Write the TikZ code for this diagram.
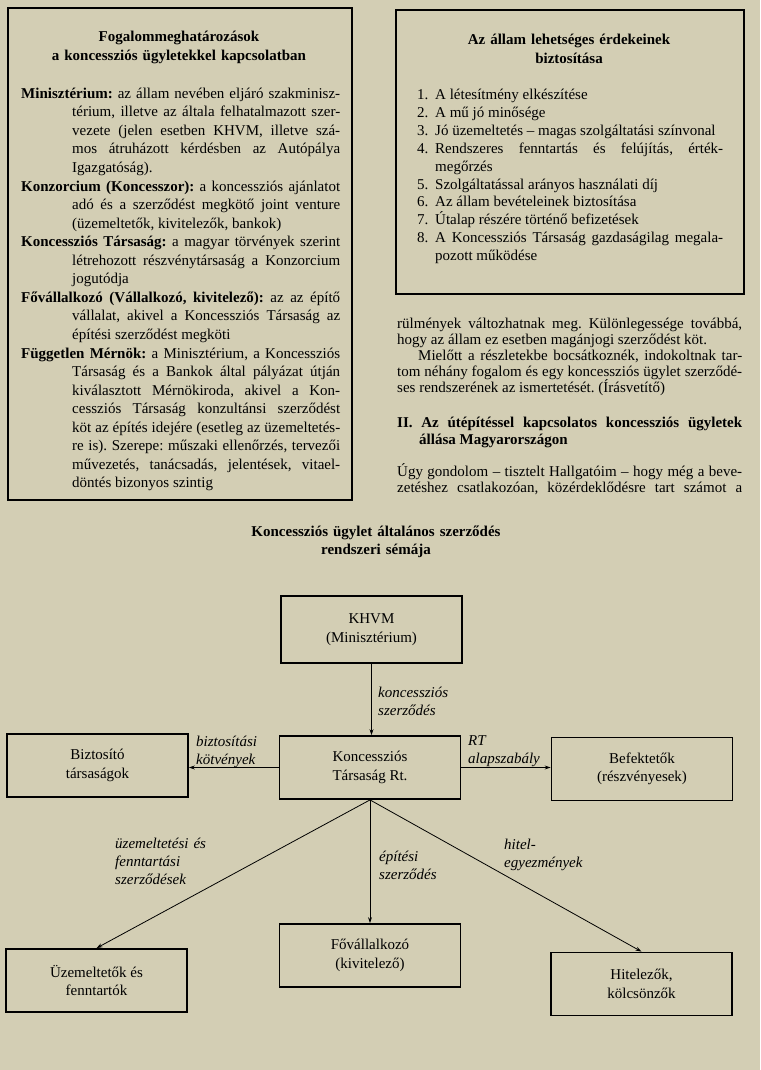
\documentclass[tikz,border=0pt]{standalone}
\usepackage{fontspec}
\setmainfont{Liberation Serif}
\usetikzlibrary{arrows.meta}

\definecolor{paper}{RGB}{211,206,180}

\tolerance=10000
\hbadness=10000
\hfuzz=4pt
\frenchspacing

% hanging entries of the two boxes
\newcommand{\fogalom}[2]{\hangindent=51pt\hangafter=1\noindent\textbf{#1} #2\par}
\newcommand{\tetel}[2]{\hangindent=18pt\hangafter=1\noindent\makebox[18pt][l]{#1}#2\par}

\begin{document}
\begin{tikzpicture}[
  x=1pt, y=-1pt,
  every node/.style={inner sep=0pt},
  frame/.style={draw, line width=1.8pt},
  box/.style={draw, line width=1.8pt, minimum width=181pt, minimum height=63pt,
    align=center, font=\fontsize{15}{18.5}\selectfont},
  head/.style={font=\fontsize{15}{18.5}\selectfont\bfseries, align=center, anchor=base},
  txt/.style={align=justify, anchor=base west},
  lab/.style={font=\fontsize{15}{18}\selectfont\itshape, align=left,
    text width=160pt, anchor=base west},
  arr/.style={-{Stealth[length=6pt,width=4pt]}, line width=0.8pt}
]
\path[use as bounding box, fill=paper] (0,0) rectangle (760,1070);

% =======================
% Box A: definitions
% =======================
\node[frame, minimum width=344pt, minimum height=492pt, anchor=north west] (defbox) at (7,7) {};
\node[head, text width=319pt] (titleA) at (179,42) {Fogalommeghatározások\\a koncessziós ügyletekkel kapcsolatban};

\node[txt, text width=319pt, font=\fontsize{15}{18.55}\selectfont] (defs) at (21,98.3) {%
  \fogalom{Minisztérium:}{az állam nevében eljáró szakminisz-\linebreak térium, illetve az általa felhatalmazott szer-\linebreak vezete (jelen esetben KHVM, illetve szá-\linebreak mos átruházott kérdésben az Autópálya\linebreak Igazgatóság).}
  \fogalom{Konzorcium (Koncesszor):}{a koncessziós ajánlatot\linebreak adó és a szerződést megkötő joint venture\linebreak (üzemeltetők, kivitelezők, bankok)}
  \fogalom{Koncessziós Társaság:}{a magyar törvények szerint\linebreak létrehozott részvénytársaság a Konzorcium\linebreak jogutódja}
  \fogalom{Fővállalkozó (Vállalkozó, kivitelező):}{az az építő\linebreak vállalat, akivel a Koncessziós Társaság az\linebreak építési szerződést megköti}
  \fogalom{Független Mérnök:}{a Minisztérium, a Koncessziós\linebreak Társaság és a Bankok által pályázat útján\linebreak kiválasztott Mérnökiroda, akivel a Kon-\linebreak cessziós Társaság konzultánsi szerződést\linebreak köt az építés idejére (esetleg az üzemeltetés-\linebreak re is). Szerepe: műszaki ellenőrzés, tervezői\linebreak művezetés, tanácsadás, jelentések, vitael-\linebreak döntés bizonyos szintig}
};

% =======================
% Box B: interests of the state
% =======================
\node[frame, minimum width=348pt, minimum height=284pt, anchor=north west] (erdbox) at (395,9) {};
\node[head, text width=300pt] (titleB) at (569,45) {Az állam lehetséges érdekeinek\\biztosítása};

\node[txt, text width=306pt, font=\fontsize{15}{17.8}\selectfont] (erdek) at (417,100) {%
  \tetel{1.}{A létesítmény elkészítése}
  \tetel{2.}{A mű jó minősége}
  \tetel{3.}{Jó üzemeltetés – magas szolgáltatási színvonal}
  \tetel{4.}{Rendszeres fenntartás és felújítás, érték-\linebreak megőrzés}
  \tetel{5.}{Szolgáltatással arányos használati díj}
  \tetel{6.}{Az állam bevételeinek biztosítása}
  \tetel{7.}{Útalap részére történő befizetések}
  \tetel{8.}{A Koncessziós Társaság gazdaságilag megala-\linebreak pozott működése}
};

% Running text below box B
\node[txt, text width=345pt, font=\fontsize{15}{16.2}\selectfont] (col) at (397,328) {%
  \noindent rülmények változhatnak meg. Különlegessége továbbá,\linebreak hogy az állam ez esetben magánjogi szerződést köt.\par
  \noindent\hspace*{21pt}Mielőtt a részletekbe bocsátkoznék, indokoltnak tar-\linebreak tom néhány fogalom és egy koncessziós ügylet szerződé-\linebreak ses rendszerének az ismertetését. (Írásvetítő)\par};

\node[txt, text width=345pt, font=\fontsize{15}{17}\selectfont\bfseries] (fejezet) at (397,427) {%
  \hangindent=22pt\hangafter=1\noindent II.\ Az útépítéssel kapcsolatos koncessziós ügyletek\linebreak állása Magyarországon\par};

\node[txt, text width=345pt, font=\fontsize{15}{16.2}\selectfont] (bev) at (397,476) {%
  \parfillskip=0pt\noindent Úgy gondolom – tisztelt Hallgatóim – hogy még a beve-\linebreak zetéshez csatlakozóan, közérdeklődésre tart számot a\par};

% =======================
% Diagram: contract scheme
% =======================
\node[head, text width=300pt] (titleC) at (376,536) {Koncessziós ügylet általános szerződés\\rendszeri sémája};

\node[box, minimum height=67pt] (khvm) at (371.5,629.5) {KHVM\\(Minisztérium)};
\node[box] (kt) at (370,767.5) {Koncessziós\\Társaság Rt.};
\node[box] (bizt) at (97.5,765.5) {Biztosító\\társaságok};
\node[box] (befekt) at (642,769) {Befektetők\\(részvényesek)};
\node[box] (uzem) at (96.5,980.5) {Üzemeltetők és\\fenntartók};
\node[box] (fovall) at (370,955.5) {Fővállalkozó\\(kivitelező)};
\node[box] (hitel) at (641.5,984) {Hitelezők,\\kölcsönzők};

% contracts
\draw[arr] (khvm.south) -- (khvm.south |- kt.north);
\draw[arr] (kt.west) -- (kt.west -| bizt.east);
\draw[arr] (kt.east) -- (kt.east -| befekt.west);
\foreach \cel in {uzem, fovall, hitel}{
  \draw[arr] (kt.south) -- (\cel.north);
}

% contract labels
\node[lab] (lkonc) at (378,697) {koncessziós\\szerződés};
\node[lab] (lbizt) at (196,746) {biztosítási\\kötvények};
\node[lab] (lrt) at (468,745) {RT\\alapszabály};
\node[lab] (luzem) at (115,848) {üzemeltetési és\\fenntartási\\szerződések};
\node[lab] (lepit) at (379,861) {építési\\szerződés};
\node[lab] (lhitel) at (504,849) {hitel-\\egyezmények};

\end{tikzpicture}
\end{document}
